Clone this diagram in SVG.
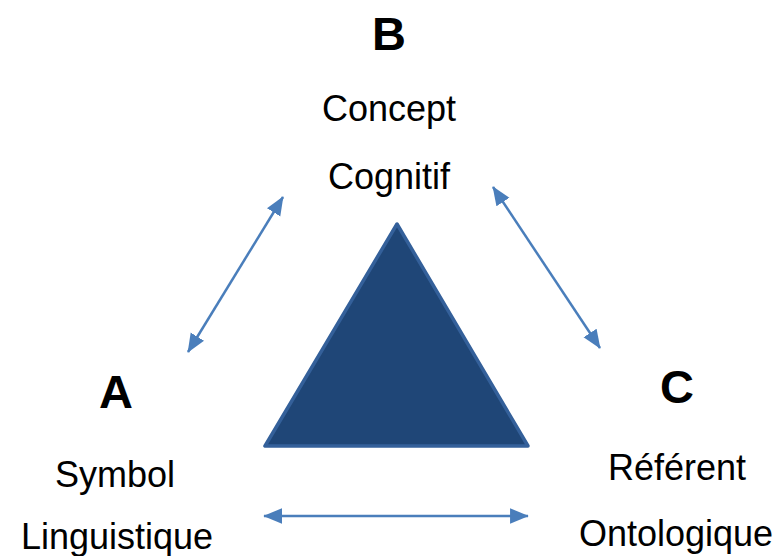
<svg xmlns="http://www.w3.org/2000/svg" width="782" height="556" viewBox="0 0 782 556">
<defs>
<style>
.t{font-family:"Liberation Sans",Arial,sans-serif;font-size:36px;fill:#000;text-anchor:middle}
.h{font-family:"Liberation Sans",Arial,sans-serif;font-size:47px;font-weight:bold;fill:#000;text-anchor:middle}
.c{stroke:#4a7ebb;stroke-width:2.5;fill:none;marker-start:url(#ah);marker-end:url(#ah)}
</style>
<marker id="ah" viewBox="0 0 12 10" refX="11.5" refY="5" markerWidth="7.5" markerHeight="6.5" orient="auto-start-reverse" markerUnits="strokeWidth">
<path d="M0,0 L12,5 L0,10 z" fill="#4a7ebb"/>
</marker>
</defs>
<rect width="782" height="556" fill="#fff"/>
<g id="triangle">
<polygon points="397,224 265,446 528,446" fill="#1f4677" stroke="#34609a" stroke-width="3.5" stroke-linejoin="round"/>
</g>
<g id="connectors">
<line class="c" x1="188" y1="352" x2="283" y2="197"/>
<line class="c" x1="493" y1="187" x2="600" y2="348"/>
<line class="c" x1="264" y1="516" x2="528" y2="516"/>
</g>
<g id="node-B">
<text class="h" x="389" y="50">B</text>
<text class="t" x="389" y="121">Concept</text>
<text class="t" x="389" y="189">Cognitif</text>
</g>
<g id="node-A">
<text class="h" x="116" y="408">A</text>
<text class="t" x="115" y="487">Symbol</text>
<text class="t" x="117" y="549">Linguistique</text>
</g>
<g id="node-C">
<text class="h" x="677" y="403">C</text>
<text class="t" x="677" y="480">Référent</text>
<text class="t" x="676" y="546">Ontologique</text>
</g>
</svg>
